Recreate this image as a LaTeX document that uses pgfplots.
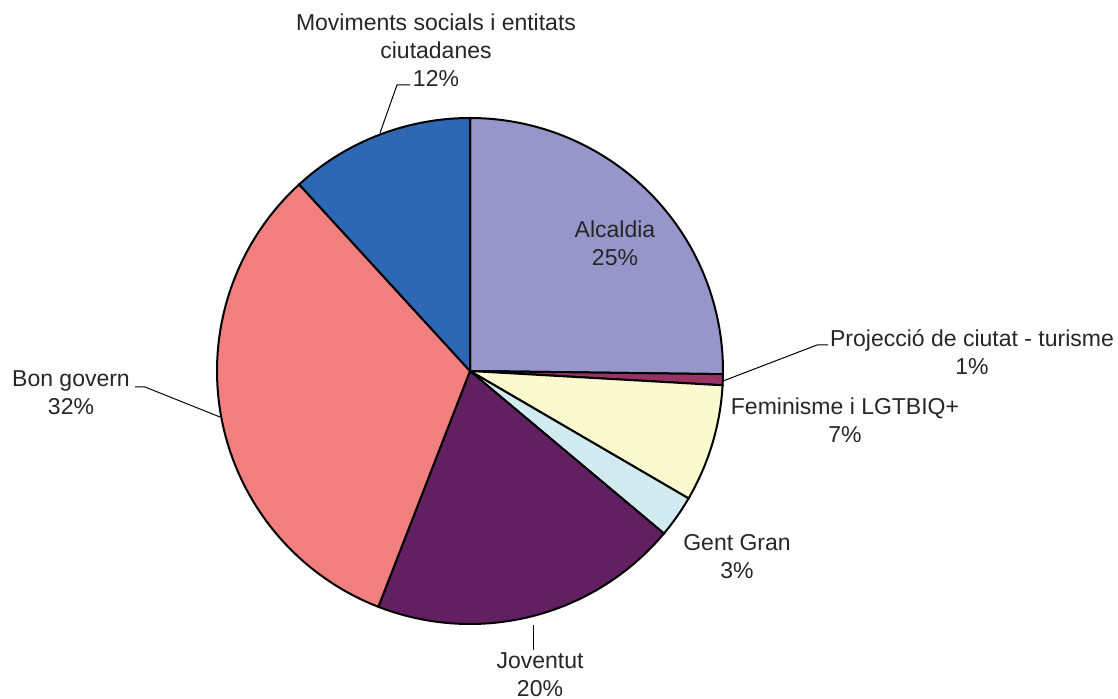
\documentclass[border=0pt]{standalone}
\usepackage{pgfplots}
\pgfplotsset{compat=1.18}
\usepackage{fontspec}
\setmainfont{Liberation Sans}

\definecolor{cAlc}{RGB}{151,150,203}
\definecolor{cPro}{RGB}{153,51,102}
\definecolor{cFem}{RGB}{251,249,206}
\definecolor{cGent}{RGB}{209,235,241}
\definecolor{cJov}{RGB}{98,32,98}
\definecolor{cBon}{RGB}{242,127,127}
\definecolor{cMov}{RGB}{46,103,179}
\definecolor{txt}{RGB}{38,38,38}

% running start angle (degrees, clockwise from the top)
\xdef\acc{90}
\newcommand\slice[2]{%
  \pgfmathsetmacro\endang{\acc-3.6*#1}%
  \edef\tmp{\noexpand\addplot[fill=#2,draw=black,line width=1pt,domain=\endang:\acc,samples=90]
    ({470+253*cos(x)},{371-253*sin(x)}) -- (axis cs:470,371) -- cycle;}%
  \tmp
  \xdef\acc{\endang}%
}

\begin{document}
\begin{tikzpicture}[every node/.style={font=\fontsize{11.5}{14}\selectfont,text=txt,align=center,inner sep=0pt}]
  \begin{axis}[
    width=559pt, height=349.5pt, scale only axis,
    xmin=0, xmax=1118, ymin=0, ymax=699,
    y dir=reverse,
    hide axis, clip=false]

    % shares in percent
    \slice{25.2}{cAlc}  % Alcaldia
    \slice{0.7}{cPro}   % Projeccio de ciutat - turisme
    \slice{7.5}{cFem}   % Feminisme i LGTBIQ+
    \slice{2.7}{cGent}  % Gent Gran
    \slice{19.8}{cJov}  % Joventut
    \slice{32.3}{cBon}  % Bon govern
    \slice{11.8}{cMov}  % Moviments socials

    \path (axis cs:0,0) rectangle (axis cs:1118,699);

    % leader lines
    \draw[line width=0.5pt] (axis cs:380,133) -- (axis cs:397,85) -- (axis cs:410,85);
    \draw[line width=0.5pt] (axis cs:723,381) -- (axis cs:817,345) -- (axis cs:828,345);
    \draw[line width=0.5pt] (axis cs:220,417) -- (axis cs:145,387) -- (axis cs:135,387);
    \draw[line width=0.5pt] (axis cs:533,625) -- (axis cs:533,650);

    % labels
    \node at (axis cs:436,50) {Moviments socials i entitats\\ciutadanes\\12\%};
    \node at (axis cs:615,243) {Alcaldia\\25\%};
    \node at (axis cs:972,352) {Projecció de ciutat - turisme\\1\%};
    \node at (axis cs:845,420) {Feminisme i LGTBIQ+\\7\%};
    \node at (axis cs:737,557) {Gent Gran\\3\%};
    \node at (axis cs:71,393) {Bon govern\\32\%};
    \node at (axis cs:540,675) {Joventut\\20\%};
  \end{axis}
\end{tikzpicture}
\end{document}
